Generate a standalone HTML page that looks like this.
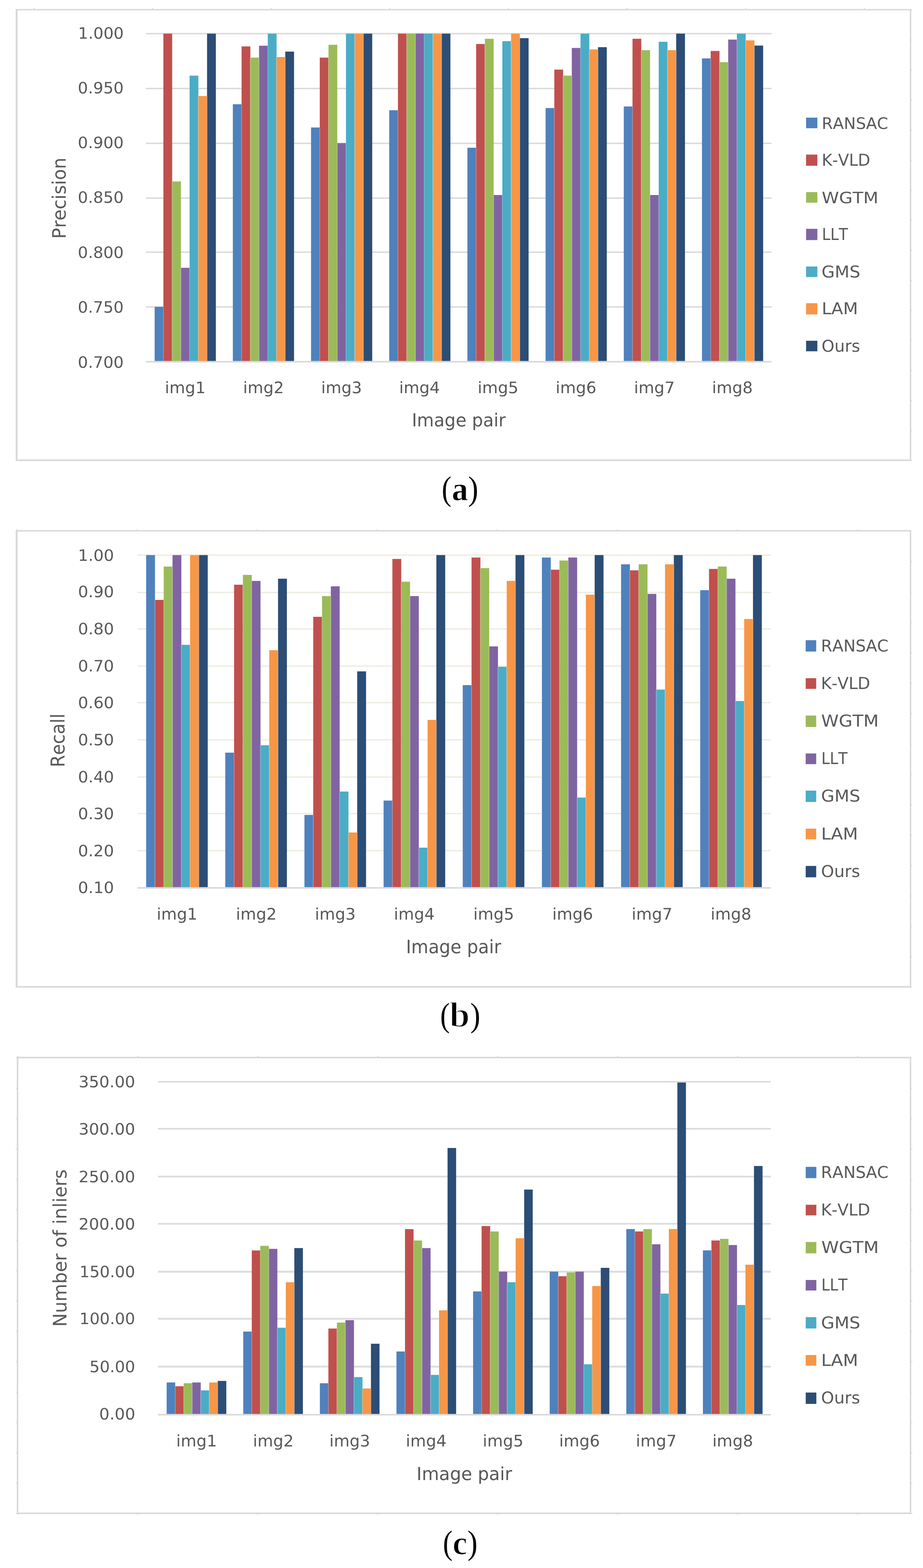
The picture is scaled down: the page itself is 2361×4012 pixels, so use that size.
<!DOCTYPE html>
<html lang="en"><head><meta charset="utf-8"><title>Figure: precision, recall and number of inliers per image pair</title>
<style>
html,body{margin:0;padding:0;background:#fff}
body{width:2361px;height:4012px;overflow:hidden}
svg{display:block}
text{white-space:pre;font-kerning:none;font-variant-ligatures:none;text-rendering:geometricPrecision}
</style></head><body>
<svg width="2361" height="4012" viewBox="0 0 2361 4012" role="img" aria-label="Bar charts of precision, recall and number of inliers for eight image pairs and seven methods">
<rect x="0" y="0" width="2361" height="4012" fill="#fff"/>
<g id="chart-a">
<rect x="85.80" y="19.90" width="2.00" height="3.60" fill="#D2D2D2"/>
<rect x="389.25" y="19.90" width="2.00" height="3.60" fill="#D2D2D2"/>
<rect x="692.70" y="19.90" width="2.00" height="3.60" fill="#D2D2D2"/>
<rect x="996.15" y="19.90" width="2.00" height="3.60" fill="#D2D2D2"/>
<rect x="1299.60" y="19.90" width="2.00" height="3.60" fill="#D2D2D2"/>
<rect x="1603.05" y="19.90" width="2.00" height="3.60" fill="#D2D2D2"/>
<rect x="1906.50" y="19.90" width="2.00" height="3.60" fill="#D2D2D2"/>
<rect x="2209.95" y="19.90" width="2.00" height="3.60" fill="#D2D2D2"/>
<rect x="2330.00" y="24.70" width="3.40" height="1.80" fill="#D2D2D2"/>
<rect x="2330.00" y="101.56" width="3.40" height="1.80" fill="#D2D2D2"/>
<rect x="2330.00" y="178.42" width="3.40" height="1.80" fill="#D2D2D2"/>
<rect x="2330.00" y="255.28" width="3.40" height="1.80" fill="#D2D2D2"/>
<rect x="2330.00" y="332.14" width="3.40" height="1.80" fill="#D2D2D2"/>
<rect x="2330.00" y="409.00" width="3.40" height="1.80" fill="#D2D2D2"/>
<rect x="2330.00" y="485.86" width="3.40" height="1.80" fill="#D2D2D2"/>
<rect x="2330.00" y="562.72" width="3.40" height="1.80" fill="#D2D2D2"/>
<rect x="2330.00" y="639.58" width="3.40" height="1.80" fill="#D2D2D2"/>
<rect x="2330.00" y="716.44" width="3.40" height="1.80" fill="#D2D2D2"/>
<rect x="2330.00" y="793.30" width="3.40" height="1.80" fill="#D2D2D2"/>
<rect x="2330.00" y="870.16" width="3.40" height="1.80" fill="#D2D2D2"/>
<rect x="2330.00" y="947.02" width="3.40" height="1.80" fill="#D2D2D2"/>
<rect x="2330.00" y="1023.88" width="3.40" height="1.80" fill="#D2D2D2"/>
<rect x="2330.00" y="1100.74" width="3.40" height="1.80" fill="#D2D2D2"/>
<rect x="2330.00" y="1177.60" width="3.40" height="1.80" fill="#D2D2D2"/>
<path fill="#D9D9D9" fill-rule="evenodd" d="M40.10 22.90H2331.00V1179.80H40.10Z M45.00 26.60V1175.50H2327.20V26.60Z"/>
<rect x="373.20" y="84.35" width="1600.40" height="3.50" fill="#D9D9D9"/>
<rect x="373.20" y="224.70" width="1600.40" height="3.50" fill="#D9D9D9"/>
<rect x="373.20" y="365.05" width="1600.40" height="3.50" fill="#D9D9D9"/>
<rect x="373.20" y="505.15" width="1600.40" height="3.50" fill="#D9D9D9"/>
<rect x="373.20" y="643.45" width="1600.40" height="3.50" fill="#D9D9D9"/>
<rect x="373.20" y="783.60" width="1600.40" height="3.50" fill="#D9D9D9"/>
<rect x="395.60" y="785.10" width="22.49" height="140.45" fill="#4F81BD"/>
<rect x="417.94" y="86.10" width="22.49" height="839.45" fill="#C0504D"/>
<rect x="440.28" y="464.30" width="22.49" height="461.25" fill="#9BBB59"/>
<rect x="462.62" y="685.20" width="22.49" height="240.35" fill="#8064A2"/>
<rect x="484.96" y="193.50" width="22.49" height="732.05" fill="#4BACC6"/>
<rect x="507.30" y="245.70" width="22.49" height="679.85" fill="#F79646"/>
<rect x="529.64" y="86.10" width="22.49" height="839.45" fill="#2C4D75"/>
<rect x="595.60" y="266.70" width="22.49" height="658.85" fill="#4F81BD"/>
<rect x="617.94" y="118.70" width="22.49" height="806.85" fill="#C0504D"/>
<rect x="640.28" y="147.40" width="22.49" height="778.15" fill="#9BBB59"/>
<rect x="662.62" y="117.00" width="22.49" height="808.55" fill="#8064A2"/>
<rect x="684.96" y="86.10" width="22.49" height="839.45" fill="#4BACC6"/>
<rect x="707.30" y="145.80" width="22.49" height="779.75" fill="#F79646"/>
<rect x="729.64" y="132.00" width="22.49" height="793.55" fill="#2C4D75"/>
<rect x="795.60" y="326.20" width="22.49" height="599.35" fill="#4F81BD"/>
<rect x="817.94" y="147.40" width="22.49" height="778.15" fill="#C0504D"/>
<rect x="840.28" y="114.60" width="22.49" height="810.95" fill="#9BBB59"/>
<rect x="862.62" y="366.30" width="22.49" height="559.25" fill="#8064A2"/>
<rect x="884.96" y="86.10" width="22.49" height="839.45" fill="#4BACC6"/>
<rect x="907.30" y="86.10" width="22.49" height="839.45" fill="#F79646"/>
<rect x="929.64" y="86.10" width="22.49" height="839.45" fill="#2C4D75"/>
<rect x="995.60" y="282.10" width="22.49" height="643.45" fill="#4F81BD"/>
<rect x="1017.94" y="86.10" width="22.49" height="839.45" fill="#C0504D"/>
<rect x="1040.28" y="86.10" width="22.49" height="839.45" fill="#9BBB59"/>
<rect x="1062.62" y="86.10" width="22.49" height="839.45" fill="#8064A2"/>
<rect x="1084.96" y="86.10" width="22.49" height="839.45" fill="#4BACC6"/>
<rect x="1107.30" y="86.10" width="22.49" height="839.45" fill="#F79646"/>
<rect x="1129.64" y="86.10" width="22.49" height="839.45" fill="#2C4D75"/>
<rect x="1195.60" y="378.00" width="22.49" height="547.55" fill="#4F81BD"/>
<rect x="1217.94" y="112.60" width="22.49" height="812.95" fill="#C0504D"/>
<rect x="1240.28" y="99.20" width="22.49" height="826.35" fill="#9BBB59"/>
<rect x="1262.62" y="499.00" width="22.49" height="426.55" fill="#8064A2"/>
<rect x="1284.96" y="105.30" width="22.49" height="820.25" fill="#4BACC6"/>
<rect x="1307.30" y="86.10" width="22.49" height="839.45" fill="#F79646"/>
<rect x="1329.64" y="97.60" width="22.49" height="827.95" fill="#2C4D75"/>
<rect x="1395.60" y="276.50" width="22.49" height="649.05" fill="#4F81BD"/>
<rect x="1417.94" y="178.10" width="22.49" height="747.45" fill="#C0504D"/>
<rect x="1440.28" y="193.50" width="22.49" height="732.05" fill="#9BBB59"/>
<rect x="1462.62" y="122.70" width="22.49" height="802.85" fill="#8064A2"/>
<rect x="1484.96" y="86.10" width="22.49" height="839.45" fill="#4BACC6"/>
<rect x="1507.30" y="126.40" width="22.49" height="799.15" fill="#F79646"/>
<rect x="1529.64" y="120.70" width="22.49" height="804.85" fill="#2C4D75"/>
<rect x="1595.60" y="272.40" width="22.49" height="653.15" fill="#4F81BD"/>
<rect x="1617.94" y="99.20" width="22.49" height="826.35" fill="#C0504D"/>
<rect x="1640.28" y="128.40" width="22.49" height="797.15" fill="#9BBB59"/>
<rect x="1662.62" y="499.00" width="22.49" height="426.55" fill="#8064A2"/>
<rect x="1684.96" y="106.90" width="22.49" height="818.65" fill="#4BACC6"/>
<rect x="1707.30" y="128.40" width="22.49" height="797.15" fill="#F79646"/>
<rect x="1729.64" y="86.10" width="22.49" height="839.45" fill="#2C4D75"/>
<rect x="1795.60" y="149.40" width="22.49" height="776.15" fill="#4F81BD"/>
<rect x="1817.94" y="130.40" width="22.49" height="795.15" fill="#C0504D"/>
<rect x="1840.28" y="159.10" width="22.49" height="766.45" fill="#9BBB59"/>
<rect x="1862.62" y="101.30" width="22.49" height="824.25" fill="#8064A2"/>
<rect x="1884.96" y="86.10" width="22.49" height="839.45" fill="#4BACC6"/>
<rect x="1907.30" y="103.30" width="22.49" height="822.25" fill="#F79646"/>
<rect x="1929.64" y="116.60" width="22.49" height="808.95" fill="#2C4D75"/>
<path d="M417.94 785.10V925.55M440.28 464.30V925.55M462.62 685.20V925.55M484.96 685.20V925.55M507.30 245.70V925.55M529.64 245.70V925.55M617.94 266.70V925.55M640.28 147.40V925.55M662.62 147.40V925.55M684.96 117.00V925.55M707.30 145.80V925.55M729.64 145.80V925.55M817.94 326.20V925.55M840.28 147.40V925.55M862.62 366.30V925.55M884.96 366.30V925.55M907.30 86.10V925.55M929.64 86.10V925.55M1017.94 282.10V925.55M1040.28 86.10V925.55M1062.62 86.10V925.55M1084.96 86.10V925.55M1107.30 86.10V925.55M1129.64 86.10V925.55M1217.94 378.00V925.55M1240.28 112.60V925.55M1262.62 499.00V925.55M1284.96 499.00V925.55M1307.30 105.30V925.55M1329.64 97.60V925.55M1417.94 276.50V925.55M1440.28 193.50V925.55M1462.62 193.50V925.55M1484.96 122.70V925.55M1507.30 126.40V925.55M1529.64 126.40V925.55M1617.94 272.40V925.55M1640.28 128.40V925.55M1662.62 499.00V925.55M1684.96 499.00V925.55M1707.30 128.40V925.55M1729.64 128.40V925.55M1817.94 149.40V925.55M1840.28 159.10V925.55M1862.62 159.10V925.55M1884.96 101.30V925.55M1907.30 103.30V925.55M1929.64 116.60V925.55" stroke="#fff" stroke-opacity="0.3" stroke-width="1.7" fill="none"/>
<rect x="373.20" y="923.55" width="1600.40" height="4.00" fill="#D9D9D9"/>
<text transform="matrix(0.4073 0 0 0.4027 199.87 98.80)" font-family="'DejaVu Sans', 'Liberation Sans', sans-serif" font-size="100" font-weight="normal" fill="#595959">1.000</text>
<text transform="matrix(0.4102 0 0 0.4027 199.03 238.80)" font-family="'DejaVu Sans', 'Liberation Sans', sans-serif" font-size="100" font-weight="normal" fill="#595959">0.950</text>
<text transform="matrix(0.4102 0 0 0.4027 199.03 379.15)" font-family="'DejaVu Sans', 'Liberation Sans', sans-serif" font-size="100" font-weight="normal" fill="#595959">0.900</text>
<text transform="matrix(0.4102 0 0 0.4027 199.03 519.40)" font-family="'DejaVu Sans', 'Liberation Sans', sans-serif" font-size="100" font-weight="normal" fill="#595959">0.850</text>
<text transform="matrix(0.4102 0 0 0.4027 199.03 659.80)" font-family="'DejaVu Sans', 'Liberation Sans', sans-serif" font-size="100" font-weight="normal" fill="#595959">0.800</text>
<text transform="matrix(0.4102 0 0 0.4027 199.03 800.15)" font-family="'DejaVu Sans', 'Liberation Sans', sans-serif" font-size="100" font-weight="normal" fill="#595959">0.750</text>
<text transform="matrix(0.4102 0 0 0.4027 199.03 940.55)" font-family="'DejaVu Sans', 'Liberation Sans', sans-serif" font-size="100" font-weight="normal" fill="#595959">0.700</text>
<text transform="matrix(0.4138 0 0 0.4067 421.65 1006.20)" font-family="'DejaVu Sans', 'Liberation Sans', sans-serif" font-size="100" font-weight="normal" fill="#595959">img1</text>
<text transform="matrix(0.4138 0 0 0.4067 621.86 1006.20)" font-family="'DejaVu Sans', 'Liberation Sans', sans-serif" font-size="100" font-weight="normal" fill="#595959">img2</text>
<text transform="matrix(0.4139 0 0 0.4067 821.44 1006.20)" font-family="'DejaVu Sans', 'Liberation Sans', sans-serif" font-size="100" font-weight="normal" fill="#595959">img3</text>
<text transform="matrix(0.4140 0 0 0.4067 1021.01 1006.20)" font-family="'DejaVu Sans', 'Liberation Sans', sans-serif" font-size="100" font-weight="normal" fill="#595959">img4</text>
<text transform="matrix(0.4138 0 0 0.4067 1221.65 1006.20)" font-family="'DejaVu Sans', 'Liberation Sans', sans-serif" font-size="100" font-weight="normal" fill="#595959">img5</text>
<text transform="matrix(0.4139 0 0 0.4067 1421.23 1006.20)" font-family="'DejaVu Sans', 'Liberation Sans', sans-serif" font-size="100" font-weight="normal" fill="#595959">img6</text>
<text transform="matrix(0.4138 0 0 0.4067 1621.65 1006.20)" font-family="'DejaVu Sans', 'Liberation Sans', sans-serif" font-size="100" font-weight="normal" fill="#595959">img7</text>
<text transform="matrix(0.4139 0 0 0.4067 1821.23 1006.20)" font-family="'DejaVu Sans', 'Liberation Sans', sans-serif" font-size="100" font-weight="normal" fill="#595959">img8</text>
<text transform="matrix(0.4462 0 0 0.4603 1053.38 1090.90)" font-family="'DejaVu Sans', 'Liberation Sans', sans-serif" font-size="100" font-weight="normal" fill="#595959">Image pair</text>
<text transform="matrix(0 -0.4615 0.4753 0 168.00 610.95)" font-family="'DejaVu Sans', 'Liberation Sans', sans-serif" font-size="100" font-weight="normal" fill="#595959">Precision</text>
<rect x="2061.90" y="301.00" width="28.90" height="27.10" fill="#4F81BD"/>
<text transform="matrix(0.4094 0 0 0.4068 2102.07 330.10)" font-family="'DejaVu Sans', 'Liberation Sans', sans-serif" font-size="100" font-weight="normal" fill="#595959">RANSAC</text>
<rect x="2061.90" y="395.55" width="28.90" height="28.50" fill="#C0504D"/>
<text transform="matrix(0.4092 0 0 0.4192 2102.07 423.70)" font-family="'DejaVu Sans', 'Liberation Sans', sans-serif" font-size="100" font-weight="normal" fill="#595959">K-VLD</text>
<rect x="2061.90" y="491.50" width="28.90" height="27.10" fill="#9BBB59"/>
<text transform="matrix(0.4471 0 0 0.4027 2102.06 519.95)" font-family="'DejaVu Sans', 'Liberation Sans', sans-serif" font-size="100" font-weight="normal" fill="#595959">WGTM</text>
<rect x="2061.90" y="585.50" width="28.90" height="28.80" fill="#8064A2"/>
<text transform="matrix(0.3860 0 0 0.4192 2102.43 614.35)" font-family="'DejaVu Sans', 'Liberation Sans', sans-serif" font-size="100" font-weight="normal" fill="#595959">LLT</text>
<rect x="2061.90" y="681.90" width="28.90" height="26.90" fill="#4BACC6"/>
<text transform="matrix(0.4359 0 0 0.4192 2101.52 710.00)" font-family="'DejaVu Sans', 'Liberation Sans', sans-serif" font-size="100" font-weight="normal" fill="#595959">GMS</text>
<rect x="2061.90" y="775.80" width="28.90" height="28.80" fill="#F79646"/>
<text transform="matrix(0.4409 0 0 0.4192 2101.93 803.85)" font-family="'DejaVu Sans', 'Liberation Sans', sans-serif" font-size="100" font-weight="normal" fill="#595959">LAM</text>
<rect x="2061.90" y="871.90" width="28.90" height="26.90" fill="#2C4D75"/>
<text transform="matrix(0.4186 0 0 0.4192 2101.61 899.80)" font-family="'DejaVu Sans', 'Liberation Sans', sans-serif" font-size="100" font-weight="normal" fill="#595959">Ours</text>
<text font-family="'Liberation Serif', serif" fill="#000"><tspan x="1129.94" y="1278.85" font-size="86.89" font-weight="normal" textLength="24.68" lengthAdjust="spacingAndGlyphs">(</tspan><tspan x="1155.81" y="1279.74" font-size="85.83" font-weight="bold" textLength="41.52" lengthAdjust="spacingAndGlyphs" stroke="#fff" stroke-width="1.00" stroke-linejoin="round">a</tspan><tspan x="1197.47" y="1278.85" font-size="86.89" font-weight="normal" textLength="25.88" lengthAdjust="spacingAndGlyphs">)</tspan></text>
</g>
<g id="chart-b">
<rect x="43.00" y="1353.60" width="2.00" height="3.40" fill="#D2D2D2"/>
<rect x="350.10" y="1353.60" width="2.00" height="3.40" fill="#D2D2D2"/>
<rect x="657.20" y="1353.60" width="2.00" height="3.40" fill="#D2D2D2"/>
<rect x="964.30" y="1353.60" width="2.00" height="3.40" fill="#D2D2D2"/>
<rect x="1271.40" y="1353.60" width="2.00" height="3.40" fill="#D2D2D2"/>
<rect x="1578.50" y="1353.60" width="2.00" height="3.40" fill="#D2D2D2"/>
<rect x="1885.60" y="1353.60" width="2.00" height="3.40" fill="#D2D2D2"/>
<rect x="2192.70" y="1353.60" width="2.00" height="3.40" fill="#D2D2D2"/>
<rect x="2330.00" y="1436.20" width="3.60" height="1.80" fill="#D2D2D2"/>
<rect x="2330.00" y="1513.98" width="3.60" height="1.80" fill="#D2D2D2"/>
<rect x="2330.00" y="1591.76" width="3.60" height="1.80" fill="#D2D2D2"/>
<rect x="2330.00" y="1669.54" width="3.60" height="1.80" fill="#D2D2D2"/>
<rect x="2330.00" y="1747.32" width="3.60" height="1.80" fill="#D2D2D2"/>
<rect x="2330.00" y="1825.10" width="3.60" height="1.80" fill="#D2D2D2"/>
<rect x="2330.00" y="1902.88" width="3.60" height="1.80" fill="#D2D2D2"/>
<rect x="2330.00" y="1980.66" width="3.60" height="1.80" fill="#D2D2D2"/>
<rect x="2330.00" y="2058.44" width="3.60" height="1.80" fill="#D2D2D2"/>
<rect x="2330.00" y="2136.22" width="3.60" height="1.80" fill="#D2D2D2"/>
<rect x="2330.00" y="2214.00" width="3.60" height="1.80" fill="#D2D2D2"/>
<rect x="2330.00" y="2291.78" width="3.60" height="1.80" fill="#D2D2D2"/>
<rect x="2330.00" y="2369.56" width="3.60" height="1.80" fill="#D2D2D2"/>
<rect x="2330.00" y="2447.34" width="3.60" height="1.80" fill="#D2D2D2"/>
<rect x="2330.00" y="2525.12" width="3.60" height="1.80" fill="#D2D2D2"/>
<path fill="#D9D9D9" fill-rule="evenodd" d="M40.10 1356.20H2331.00V2527.00H40.10Z M45.00 1359.90V2523.10H2327.20V1359.90Z"/>
<rect x="352.00" y="1418.55" width="1619.60" height="3.50" fill="#EEECE1"/>
<rect x="352.00" y="1514.25" width="1619.60" height="3.50" fill="#EEECE1"/>
<rect x="352.00" y="1607.45" width="1619.60" height="3.50" fill="#EEECE1"/>
<rect x="352.00" y="1702.65" width="1619.60" height="3.50" fill="#EEECE1"/>
<rect x="352.00" y="1796.05" width="1619.60" height="3.50" fill="#EEECE1"/>
<rect x="352.00" y="1891.25" width="1619.60" height="3.50" fill="#EEECE1"/>
<rect x="352.00" y="1986.45" width="1619.60" height="3.50" fill="#EEECE1"/>
<rect x="352.00" y="2080.00" width="1619.60" height="3.50" fill="#EEECE1"/>
<rect x="352.00" y="2174.85" width="1619.60" height="3.50" fill="#EEECE1"/>
<rect x="373.80" y="1420.30" width="22.64" height="851.50" fill="#4F81BD"/>
<rect x="396.29" y="1535.00" width="22.64" height="736.80" fill="#C0504D"/>
<rect x="418.78" y="1449.60" width="22.64" height="822.20" fill="#9BBB59"/>
<rect x="441.27" y="1420.30" width="22.64" height="851.50" fill="#8064A2"/>
<rect x="463.76" y="1649.90" width="22.64" height="621.90" fill="#4BACC6"/>
<rect x="486.25" y="1420.30" width="22.64" height="851.50" fill="#F79646"/>
<rect x="508.74" y="1420.30" width="22.64" height="851.50" fill="#2C4D75"/>
<rect x="576.28" y="1925.80" width="22.64" height="346.00" fill="#4F81BD"/>
<rect x="598.77" y="1496.10" width="22.64" height="775.70" fill="#C0504D"/>
<rect x="621.26" y="1471.00" width="22.64" height="800.80" fill="#9BBB59"/>
<rect x="643.75" y="1486.40" width="22.64" height="785.40" fill="#8064A2"/>
<rect x="666.24" y="1906.80" width="22.64" height="365.00" fill="#4BACC6"/>
<rect x="688.73" y="1663.60" width="22.64" height="608.20" fill="#F79646"/>
<rect x="711.22" y="1480.70" width="22.64" height="791.10" fill="#2C4D75"/>
<rect x="778.76" y="2085.20" width="22.64" height="186.60" fill="#4F81BD"/>
<rect x="801.25" y="1578.20" width="22.64" height="693.60" fill="#C0504D"/>
<rect x="823.74" y="1525.20" width="22.64" height="746.60" fill="#9BBB59"/>
<rect x="846.23" y="1500.20" width="22.64" height="771.60" fill="#8064A2"/>
<rect x="868.72" y="2025.30" width="22.64" height="246.50" fill="#4BACC6"/>
<rect x="891.21" y="2130.10" width="22.64" height="141.70" fill="#F79646"/>
<rect x="913.70" y="1717.80" width="22.64" height="554.00" fill="#2C4D75"/>
<rect x="981.24" y="2048.40" width="22.64" height="223.40" fill="#4F81BD"/>
<rect x="1003.73" y="1430.20" width="22.64" height="841.60" fill="#C0504D"/>
<rect x="1026.22" y="1488.40" width="22.64" height="783.40" fill="#9BBB59"/>
<rect x="1048.71" y="1525.20" width="22.64" height="746.60" fill="#8064A2"/>
<rect x="1071.20" y="2168.90" width="22.64" height="102.90" fill="#4BACC6"/>
<rect x="1093.69" y="1842.00" width="22.64" height="429.80" fill="#F79646"/>
<rect x="1116.18" y="1420.30" width="22.64" height="851.50" fill="#2C4D75"/>
<rect x="1183.72" y="1753.00" width="22.64" height="518.80" fill="#4F81BD"/>
<rect x="1206.21" y="1426.50" width="22.64" height="845.30" fill="#C0504D"/>
<rect x="1228.70" y="1453.60" width="22.64" height="818.20" fill="#9BBB59"/>
<rect x="1251.19" y="1653.90" width="22.64" height="617.90" fill="#8064A2"/>
<rect x="1273.68" y="1706.10" width="22.64" height="565.70" fill="#4BACC6"/>
<rect x="1296.17" y="1486.40" width="22.64" height="785.40" fill="#F79646"/>
<rect x="1318.66" y="1420.30" width="22.64" height="851.50" fill="#2C4D75"/>
<rect x="1386.20" y="1426.50" width="22.64" height="845.30" fill="#4F81BD"/>
<rect x="1408.69" y="1457.70" width="22.64" height="814.10" fill="#C0504D"/>
<rect x="1431.18" y="1434.20" width="22.64" height="837.60" fill="#9BBB59"/>
<rect x="1453.67" y="1426.50" width="22.64" height="845.30" fill="#8064A2"/>
<rect x="1476.16" y="2040.70" width="22.64" height="231.10" fill="#4BACC6"/>
<rect x="1498.65" y="1521.60" width="22.64" height="750.20" fill="#F79646"/>
<rect x="1521.14" y="1420.30" width="22.64" height="851.50" fill="#2C4D75"/>
<rect x="1588.68" y="1443.90" width="22.64" height="827.90" fill="#4F81BD"/>
<rect x="1611.17" y="1459.30" width="22.64" height="812.50" fill="#C0504D"/>
<rect x="1633.66" y="1443.90" width="22.64" height="827.90" fill="#9BBB59"/>
<rect x="1656.15" y="1519.60" width="22.64" height="752.20" fill="#8064A2"/>
<rect x="1678.64" y="1764.40" width="22.64" height="507.40" fill="#4BACC6"/>
<rect x="1701.13" y="1443.90" width="22.64" height="827.90" fill="#F79646"/>
<rect x="1723.62" y="1420.30" width="22.64" height="851.50" fill="#2C4D75"/>
<rect x="1791.16" y="1510.10" width="22.64" height="761.70" fill="#4F81BD"/>
<rect x="1813.65" y="1455.70" width="22.64" height="816.10" fill="#C0504D"/>
<rect x="1836.14" y="1449.60" width="22.64" height="822.20" fill="#9BBB59"/>
<rect x="1858.63" y="1480.70" width="22.64" height="791.10" fill="#8064A2"/>
<rect x="1881.12" y="1793.70" width="22.64" height="478.10" fill="#4BACC6"/>
<rect x="1903.61" y="1583.90" width="22.64" height="687.90" fill="#F79646"/>
<rect x="1926.10" y="1420.30" width="22.64" height="851.50" fill="#2C4D75"/>
<path d="M396.29 1535.00V2271.80M418.78 1535.00V2271.80M441.27 1449.60V2271.80M463.76 1649.90V2271.80M486.25 1649.90V2271.80M508.74 1420.30V2271.80M598.77 1925.80V2271.80M621.26 1496.10V2271.80M643.75 1486.40V2271.80M666.24 1906.80V2271.80M688.73 1906.80V2271.80M711.22 1663.60V2271.80M801.25 2085.20V2271.80M823.74 1578.20V2271.80M846.23 1525.20V2271.80M868.72 2025.30V2271.80M891.21 2130.10V2271.80M913.70 2130.10V2271.80M1003.73 2048.40V2271.80M1026.22 1488.40V2271.80M1048.71 1525.20V2271.80M1071.20 2168.90V2271.80M1093.69 2168.90V2271.80M1116.18 1842.00V2271.80M1206.21 1753.00V2271.80M1228.70 1453.60V2271.80M1251.19 1653.90V2271.80M1273.68 1706.10V2271.80M1296.17 1706.10V2271.80M1318.66 1486.40V2271.80M1408.69 1457.70V2271.80M1431.18 1457.70V2271.80M1453.67 1434.20V2271.80M1476.16 2040.70V2271.80M1498.65 2040.70V2271.80M1521.14 1521.60V2271.80M1611.17 1459.30V2271.80M1633.66 1459.30V2271.80M1656.15 1519.60V2271.80M1678.64 1764.40V2271.80M1701.13 1764.40V2271.80M1723.62 1443.90V2271.80M1813.65 1510.10V2271.80M1836.14 1455.70V2271.80M1858.63 1480.70V2271.80M1881.12 1793.70V2271.80M1903.61 1793.70V2271.80M1926.10 1583.90V2271.80" stroke="#fff" stroke-opacity="0.3" stroke-width="1.7" fill="none"/>
<rect x="352.00" y="2269.80" width="1619.60" height="4.00" fill="#D9D9D9"/>
<text transform="matrix(0.4141 0 0 0.4027 199.45 1434.55)" font-family="'DejaVu Sans', 'Liberation Sans', sans-serif" font-size="100" font-weight="normal" fill="#595959">1.00</text>
<text transform="matrix(0.4140 0 0 0.4027 199.47 1528.35)" font-family="'DejaVu Sans', 'Liberation Sans', sans-serif" font-size="100" font-weight="normal" fill="#595959">0.90</text>
<text transform="matrix(0.4140 0 0 0.4027 199.47 1623.45)" font-family="'DejaVu Sans', 'Liberation Sans', sans-serif" font-size="100" font-weight="normal" fill="#595959">0.80</text>
<text transform="matrix(0.4140 0 0 0.4027 199.47 1717.70)" font-family="'DejaVu Sans', 'Liberation Sans', sans-serif" font-size="100" font-weight="normal" fill="#595959">0.70</text>
<text transform="matrix(0.4140 0 0 0.4027 199.47 1811.70)" font-family="'DejaVu Sans', 'Liberation Sans', sans-serif" font-size="100" font-weight="normal" fill="#595959">0.60</text>
<text transform="matrix(0.4140 0 0 0.4027 199.47 1907.05)" font-family="'DejaVu Sans', 'Liberation Sans', sans-serif" font-size="100" font-weight="normal" fill="#595959">0.50</text>
<text transform="matrix(0.4140 0 0 0.4027 199.47 2001.50)" font-family="'DejaVu Sans', 'Liberation Sans', sans-serif" font-size="100" font-weight="normal" fill="#595959">0.40</text>
<text transform="matrix(0.4140 0 0 0.4027 199.47 2096.00)" font-family="'DejaVu Sans', 'Liberation Sans', sans-serif" font-size="100" font-weight="normal" fill="#595959">0.30</text>
<text transform="matrix(0.4140 0 0 0.4027 199.47 2190.85)" font-family="'DejaVu Sans', 'Liberation Sans', sans-serif" font-size="100" font-weight="normal" fill="#595959">0.20</text>
<text transform="matrix(0.4140 0 0 0.4027 199.47 2285.30)" font-family="'DejaVu Sans', 'Liberation Sans', sans-serif" font-size="100" font-weight="normal" fill="#595959">0.10</text>
<text transform="matrix(0.4134 0 0 0.4093 400.79 2352.80)" font-family="'DejaVu Sans', 'Liberation Sans', sans-serif" font-size="100" font-weight="normal" fill="#595959">img1</text>
<text transform="matrix(0.4134 0 0 0.4093 603.49 2352.80)" font-family="'DejaVu Sans', 'Liberation Sans', sans-serif" font-size="100" font-weight="normal" fill="#595959">img2</text>
<text transform="matrix(0.4135 0 0 0.4093 805.54 2352.80)" font-family="'DejaVu Sans', 'Liberation Sans', sans-serif" font-size="100" font-weight="normal" fill="#595959">img3</text>
<text transform="matrix(0.4135 0 0 0.4093 1007.60 2352.80)" font-family="'DejaVu Sans', 'Liberation Sans', sans-serif" font-size="100" font-weight="normal" fill="#595959">img4</text>
<text transform="matrix(0.4134 0 0 0.4093 1210.71 2352.80)" font-family="'DejaVu Sans', 'Liberation Sans', sans-serif" font-size="100" font-weight="normal" fill="#595959">img5</text>
<text transform="matrix(0.4135 0 0 0.4093 1412.77 2352.80)" font-family="'DejaVu Sans', 'Liberation Sans', sans-serif" font-size="100" font-weight="normal" fill="#595959">img6</text>
<text transform="matrix(0.4134 0 0 0.4093 1615.67 2352.80)" font-family="'DejaVu Sans', 'Liberation Sans', sans-serif" font-size="100" font-weight="normal" fill="#595959">img7</text>
<text transform="matrix(0.4135 0 0 0.4093 1817.73 2352.80)" font-family="'DejaVu Sans', 'Liberation Sans', sans-serif" font-size="100" font-weight="normal" fill="#595959">img8</text>
<text transform="matrix(0.4521 0 0 0.4740 1038.53 2438.90)" font-family="'DejaVu Sans', 'Liberation Sans', sans-serif" font-size="100" font-weight="normal" fill="#595959">Image pair</text>
<text transform="matrix(0 -0.4547 0.4890 0 164.70 1963.29)" font-family="'DejaVu Sans', 'Liberation Sans', sans-serif" font-size="100" font-weight="normal" fill="#595959">Recall</text>
<rect x="2060.90" y="1638.10" width="26.90" height="29.00" fill="#4F81BD"/>
<text transform="matrix(0.4168 0 0 0.4192 2099.95 1666.90)" font-family="'DejaVu Sans', 'Liberation Sans', sans-serif" font-size="100" font-weight="normal" fill="#595959">RANSAC</text>
<rect x="2060.90" y="1735.30" width="26.90" height="27.30" fill="#C0504D"/>
<text transform="matrix(0.4156 0 0 0.4233 2099.96 1763.25)" font-family="'DejaVu Sans', 'Liberation Sans', sans-serif" font-size="100" font-weight="normal" fill="#595959">K-VLD</text>
<rect x="2060.90" y="1830.80" width="26.90" height="29.20" fill="#9BBB59"/>
<text transform="matrix(0.4548 0 0 0.4192 2100.54 1859.05)" font-family="'DejaVu Sans', 'Liberation Sans', sans-serif" font-size="100" font-weight="normal" fill="#595959">WGTM</text>
<rect x="2060.90" y="1927.90" width="26.90" height="27.30" fill="#8064A2"/>
<text transform="matrix(0.3872 0 0 0.4192 2101.02 1955.05)" font-family="'DejaVu Sans', 'Liberation Sans', sans-serif" font-size="100" font-weight="normal" fill="#595959">LLT</text>
<rect x="2060.90" y="2022.95" width="26.90" height="29.05" fill="#4BACC6"/>
<text transform="matrix(0.4419 0 0 0.4192 2100.19 2051.05)" font-family="'DejaVu Sans', 'Liberation Sans', sans-serif" font-size="100" font-weight="normal" fill="#595959">GMS</text>
<rect x="2060.90" y="2120.20" width="26.90" height="27.30" fill="#F79646"/>
<text transform="matrix(0.4479 0 0 0.4192 2100.47 2147.55)" font-family="'DejaVu Sans', 'Liberation Sans', sans-serif" font-size="100" font-weight="normal" fill="#595959">LAM</text>
<rect x="2060.90" y="2215.65" width="26.90" height="29.05" fill="#2C4D75"/>
<text transform="matrix(0.4243 0 0 0.4192 2100.28 2243.90)" font-family="'DejaVu Sans', 'Liberation Sans', sans-serif" font-size="100" font-weight="normal" fill="#595959">Ours</text>
<text font-family="'Liberation Serif', serif" fill="#000"><tspan x="1125.95" y="2625.72" font-size="86.56" font-weight="normal" textLength="24.55" lengthAdjust="spacingAndGlyphs">(</tspan><tspan x="1149.56" y="2627.49" font-size="91.00" font-weight="bold" textLength="52.24" lengthAdjust="spacingAndGlyphs" stroke="#fff" stroke-width="2.60" stroke-linejoin="round">b</tspan><tspan x="1202.90" y="2625.72" font-size="86.56" font-weight="normal" textLength="25.50" lengthAdjust="spacingAndGlyphs">)</tspan></text>
</g>
<g id="chart-c">
<rect x="44.90" y="2701.10" width="2.00" height="3.90" fill="#D2D2D2"/>
<rect x="351.80" y="2701.10" width="2.00" height="3.90" fill="#D2D2D2"/>
<rect x="658.70" y="2701.10" width="2.00" height="3.90" fill="#D2D2D2"/>
<rect x="965.60" y="2701.10" width="2.00" height="3.90" fill="#D2D2D2"/>
<rect x="1272.50" y="2701.10" width="2.00" height="3.90" fill="#D2D2D2"/>
<rect x="1579.40" y="2701.10" width="2.00" height="3.90" fill="#D2D2D2"/>
<rect x="1886.30" y="2701.10" width="2.00" height="3.90" fill="#D2D2D2"/>
<rect x="2193.20" y="2701.10" width="2.00" height="3.90" fill="#D2D2D2"/>
<rect x="44.90" y="3873.00" width="2.00" height="2.80" fill="#D2D2D2"/>
<rect x="351.80" y="3873.00" width="2.00" height="2.80" fill="#D2D2D2"/>
<rect x="658.70" y="3873.00" width="2.00" height="2.80" fill="#D2D2D2"/>
<rect x="965.60" y="3873.00" width="2.00" height="2.80" fill="#D2D2D2"/>
<rect x="1272.50" y="3873.00" width="2.00" height="2.80" fill="#D2D2D2"/>
<rect x="1579.40" y="3873.00" width="2.00" height="2.80" fill="#D2D2D2"/>
<rect x="1886.30" y="3873.00" width="2.00" height="2.80" fill="#D2D2D2"/>
<rect x="2193.20" y="3873.00" width="2.00" height="2.80" fill="#D2D2D2"/>
<rect x="40.10" y="2705.80" width="3.40" height="1.80" fill="#D2D2D2"/>
<rect x="40.10" y="2783.55" width="3.40" height="1.80" fill="#D2D2D2"/>
<rect x="40.10" y="2861.30" width="3.40" height="1.80" fill="#D2D2D2"/>
<rect x="40.10" y="2939.05" width="3.40" height="1.80" fill="#D2D2D2"/>
<rect x="40.10" y="3016.80" width="3.40" height="1.80" fill="#D2D2D2"/>
<rect x="40.10" y="3094.55" width="3.40" height="1.80" fill="#D2D2D2"/>
<rect x="40.10" y="3172.30" width="3.40" height="1.80" fill="#D2D2D2"/>
<rect x="40.10" y="3250.05" width="3.40" height="1.80" fill="#D2D2D2"/>
<rect x="40.10" y="3327.80" width="3.40" height="1.80" fill="#D2D2D2"/>
<rect x="40.10" y="3405.55" width="3.40" height="1.80" fill="#D2D2D2"/>
<rect x="40.10" y="3483.30" width="3.40" height="1.80" fill="#D2D2D2"/>
<rect x="40.10" y="3561.05" width="3.40" height="1.80" fill="#D2D2D2"/>
<rect x="40.10" y="3638.80" width="3.40" height="1.80" fill="#D2D2D2"/>
<rect x="40.10" y="3716.55" width="3.40" height="1.80" fill="#D2D2D2"/>
<rect x="40.10" y="3794.30" width="3.40" height="1.80" fill="#D2D2D2"/>
<rect x="40.10" y="3872.05" width="3.40" height="1.80" fill="#D2D2D2"/>
<rect x="2330.00" y="2783.55" width="3.80" height="1.80" fill="#D2D2D2"/>
<rect x="2330.00" y="2861.30" width="3.80" height="1.80" fill="#D2D2D2"/>
<rect x="2330.00" y="2939.05" width="3.80" height="1.80" fill="#D2D2D2"/>
<rect x="2330.00" y="3016.80" width="3.80" height="1.80" fill="#D2D2D2"/>
<rect x="2330.00" y="3094.55" width="3.80" height="1.80" fill="#D2D2D2"/>
<rect x="2330.00" y="3172.30" width="3.80" height="1.80" fill="#D2D2D2"/>
<rect x="2330.00" y="3250.05" width="3.80" height="1.80" fill="#D2D2D2"/>
<rect x="2330.00" y="3327.80" width="3.80" height="1.80" fill="#D2D2D2"/>
<rect x="2330.00" y="3405.55" width="3.80" height="1.80" fill="#D2D2D2"/>
<rect x="2330.00" y="3483.30" width="3.80" height="1.80" fill="#D2D2D2"/>
<rect x="2330.00" y="3561.05" width="3.80" height="1.80" fill="#D2D2D2"/>
<rect x="2330.00" y="3638.80" width="3.80" height="1.80" fill="#D2D2D2"/>
<rect x="2330.00" y="3716.55" width="3.80" height="1.80" fill="#D2D2D2"/>
<rect x="2330.00" y="3794.30" width="3.80" height="1.80" fill="#D2D2D2"/>
<rect x="2330.00" y="3872.05" width="3.80" height="1.80" fill="#D2D2D2"/>
<path fill="#D9D9D9" fill-rule="evenodd" d="M42.90 2704.00H2331.00V3873.90H42.90Z M46.90 2707.90V3870.10H2327.20V2707.90Z"/>
<rect x="404.30" y="2766.15" width="1567.70" height="3.50" fill="#D9D9D9"/>
<rect x="404.30" y="2886.20" width="1567.70" height="4.80" fill="#EDEDED"/>
<rect x="404.30" y="2886.20" width="1567.70" height="3.00" fill="#D9D9D9"/>
<rect x="404.30" y="3008.60" width="1567.70" height="4.80" fill="#EDEDED"/>
<rect x="404.30" y="3008.60" width="1567.70" height="3.00" fill="#D9D9D9"/>
<rect x="404.30" y="3129.40" width="1567.70" height="4.80" fill="#EDEDED"/>
<rect x="404.30" y="3129.40" width="1567.70" height="3.00" fill="#D9D9D9"/>
<rect x="404.30" y="3251.05" width="1567.70" height="5.90" fill="#EDEDED"/>
<rect x="404.30" y="3252.35" width="1567.70" height="3.00" fill="#D9D9D9"/>
<rect x="404.30" y="3371.45" width="1567.70" height="5.90" fill="#EDEDED"/>
<rect x="404.30" y="3372.75" width="1567.70" height="3.00" fill="#D9D9D9"/>
<rect x="404.30" y="3493.85" width="1567.70" height="5.90" fill="#EDEDED"/>
<rect x="404.30" y="3495.15" width="1567.70" height="3.00" fill="#D9D9D9"/>
<rect x="426.30" y="3537.30" width="21.92" height="82.45" fill="#4F81BD"/>
<rect x="448.07" y="3547.00" width="21.92" height="72.75" fill="#C0504D"/>
<rect x="469.84" y="3539.30" width="21.92" height="80.45" fill="#9BBB59"/>
<rect x="491.61" y="3537.30" width="21.92" height="82.45" fill="#8064A2"/>
<rect x="513.38" y="3557.50" width="21.92" height="62.25" fill="#4BACC6"/>
<rect x="535.15" y="3537.30" width="21.92" height="82.45" fill="#F79646"/>
<rect x="556.92" y="3533.30" width="21.92" height="86.45" fill="#2C4D75"/>
<rect x="622.26" y="3407.00" width="21.92" height="212.75" fill="#4F81BD"/>
<rect x="644.03" y="3199.50" width="21.92" height="420.25" fill="#C0504D"/>
<rect x="665.80" y="3187.70" width="21.92" height="432.05" fill="#9BBB59"/>
<rect x="687.57" y="3195.40" width="21.92" height="424.35" fill="#8064A2"/>
<rect x="709.34" y="3397.30" width="21.92" height="222.45" fill="#4BACC6"/>
<rect x="731.11" y="3280.80" width="21.92" height="338.95" fill="#F79646"/>
<rect x="752.88" y="3193.40" width="21.92" height="426.35" fill="#2C4D75"/>
<rect x="818.22" y="3539.30" width="21.92" height="80.45" fill="#4F81BD"/>
<rect x="839.99" y="3399.30" width="21.92" height="220.45" fill="#C0504D"/>
<rect x="861.76" y="3384.00" width="21.92" height="235.75" fill="#9BBB59"/>
<rect x="883.53" y="3377.90" width="21.92" height="241.85" fill="#8064A2"/>
<rect x="905.30" y="3523.50" width="21.92" height="96.25" fill="#4BACC6"/>
<rect x="927.07" y="3552.70" width="21.92" height="67.05" fill="#F79646"/>
<rect x="948.84" y="3438.20" width="21.92" height="181.55" fill="#2C4D75"/>
<rect x="1014.18" y="3458.00" width="21.92" height="161.75" fill="#4F81BD"/>
<rect x="1035.95" y="3144.90" width="21.92" height="474.85" fill="#C0504D"/>
<rect x="1057.72" y="3174.00" width="21.92" height="445.75" fill="#9BBB59"/>
<rect x="1079.49" y="3193.40" width="21.92" height="426.35" fill="#8064A2"/>
<rect x="1101.26" y="3517.90" width="21.92" height="101.85" fill="#4BACC6"/>
<rect x="1123.03" y="3352.80" width="21.92" height="266.95" fill="#F79646"/>
<rect x="1144.80" y="2937.30" width="21.92" height="682.45" fill="#2C4D75"/>
<rect x="1210.14" y="3304.30" width="21.92" height="315.45" fill="#4F81BD"/>
<rect x="1231.91" y="3137.10" width="21.92" height="482.65" fill="#C0504D"/>
<rect x="1253.68" y="3150.90" width="21.92" height="468.85" fill="#9BBB59"/>
<rect x="1275.45" y="3253.70" width="21.92" height="366.05" fill="#8064A2"/>
<rect x="1297.22" y="3280.80" width="21.92" height="338.95" fill="#4BACC6"/>
<rect x="1318.99" y="3168.30" width="21.92" height="451.45" fill="#F79646"/>
<rect x="1340.76" y="3043.70" width="21.92" height="576.05" fill="#2C4D75"/>
<rect x="1406.10" y="3253.70" width="21.92" height="366.05" fill="#4F81BD"/>
<rect x="1427.87" y="3265.40" width="21.92" height="354.35" fill="#C0504D"/>
<rect x="1449.64" y="3255.70" width="21.92" height="364.05" fill="#9BBB59"/>
<rect x="1471.41" y="3253.70" width="21.92" height="366.05" fill="#8064A2"/>
<rect x="1493.18" y="3490.80" width="21.92" height="128.95" fill="#4BACC6"/>
<rect x="1514.95" y="3290.50" width="21.92" height="329.25" fill="#F79646"/>
<rect x="1536.72" y="3244.00" width="21.92" height="375.75" fill="#2C4D75"/>
<rect x="1602.06" y="3144.80" width="21.92" height="474.95" fill="#4F81BD"/>
<rect x="1623.83" y="3150.90" width="21.92" height="468.85" fill="#C0504D"/>
<rect x="1645.60" y="3144.80" width="21.92" height="474.95" fill="#9BBB59"/>
<rect x="1667.37" y="3183.70" width="21.92" height="436.05" fill="#8064A2"/>
<rect x="1689.14" y="3309.90" width="21.92" height="309.85" fill="#4BACC6"/>
<rect x="1710.91" y="3144.80" width="21.92" height="474.95" fill="#F79646"/>
<rect x="1732.68" y="2769.80" width="21.92" height="849.95" fill="#2C4D75"/>
<rect x="1798.02" y="3199.30" width="21.92" height="420.45" fill="#4F81BD"/>
<rect x="1819.79" y="3174.00" width="21.92" height="445.75" fill="#C0504D"/>
<rect x="1841.56" y="3169.90" width="21.92" height="449.85" fill="#9BBB59"/>
<rect x="1863.33" y="3185.70" width="21.92" height="434.05" fill="#8064A2"/>
<rect x="1885.10" y="3339.10" width="21.92" height="280.65" fill="#4BACC6"/>
<rect x="1906.87" y="3235.90" width="21.92" height="383.85" fill="#F79646"/>
<rect x="1928.64" y="2983.40" width="21.92" height="636.35" fill="#2C4D75"/>
<path d="M448.07 3547.00V3619.75M469.84 3547.00V3619.75M491.61 3539.30V3619.75M513.38 3557.50V3619.75M535.15 3557.50V3619.75M556.92 3537.30V3619.75M644.03 3407.00V3619.75M665.80 3199.50V3619.75M687.57 3195.40V3619.75M709.34 3397.30V3619.75M731.11 3397.30V3619.75M752.88 3280.80V3619.75M839.99 3539.30V3619.75M861.76 3399.30V3619.75M883.53 3384.00V3619.75M905.30 3523.50V3619.75M927.07 3552.70V3619.75M948.84 3552.70V3619.75M1035.95 3458.00V3619.75M1057.72 3174.00V3619.75M1079.49 3193.40V3619.75M1101.26 3517.90V3619.75M1123.03 3517.90V3619.75M1144.80 3352.80V3619.75M1231.91 3304.30V3619.75M1253.68 3150.90V3619.75M1275.45 3253.70V3619.75M1297.22 3280.80V3619.75M1318.99 3280.80V3619.75M1340.76 3168.30V3619.75M1427.87 3265.40V3619.75M1449.64 3265.40V3619.75M1471.41 3255.70V3619.75M1493.18 3490.80V3619.75M1514.95 3490.80V3619.75M1536.72 3290.50V3619.75M1623.83 3150.90V3619.75M1645.60 3150.90V3619.75M1667.37 3183.70V3619.75M1689.14 3309.90V3619.75M1710.91 3309.90V3619.75M1732.68 3144.80V3619.75M1819.79 3199.30V3619.75M1841.56 3174.00V3619.75M1863.33 3185.70V3619.75M1885.10 3339.10V3619.75M1906.87 3339.10V3619.75M1928.64 3235.90V3619.75" stroke="#fff" stroke-opacity="0.3" stroke-width="1.7" fill="none"/>
<rect x="404.30" y="3617.75" width="1567.70" height="4.00" fill="#D9D9D9"/>
<text transform="matrix(0.4123 0 0 0.4027 201.36 2782.30)" font-family="'DejaVu Sans', 'Liberation Sans', sans-serif" font-size="100" font-weight="normal" fill="#595959">350.00</text>
<text transform="matrix(0.4123 0 0 0.4027 201.36 2902.90)" font-family="'DejaVu Sans', 'Liberation Sans', sans-serif" font-size="100" font-weight="normal" fill="#595959">300.00</text>
<text transform="matrix(0.4123 0 0 0.4027 201.36 3025.30)" font-family="'DejaVu Sans', 'Liberation Sans', sans-serif" font-size="100" font-weight="normal" fill="#595959">250.00</text>
<text transform="matrix(0.4123 0 0 0.4027 201.36 3145.50)" font-family="'DejaVu Sans', 'Liberation Sans', sans-serif" font-size="100" font-weight="normal" fill="#595959">200.00</text>
<text transform="matrix(0.4066 0 0 0.4027 203.32 3267.90)" font-family="'DejaVu Sans', 'Liberation Sans', sans-serif" font-size="100" font-weight="normal" fill="#595959">150.00</text>
<text transform="matrix(0.4066 0 0 0.4027 203.32 3387.70)" font-family="'DejaVu Sans', 'Liberation Sans', sans-serif" font-size="100" font-weight="normal" fill="#595959">100.00</text>
<text transform="matrix(0.4080 0 0 0.4027 228.95 3511.00)" font-family="'DejaVu Sans', 'Liberation Sans', sans-serif" font-size="100" font-weight="normal" fill="#595959">50.00</text>
<text transform="matrix(0.4136 0 0 0.4027 253.87 3631.60)" font-family="'DejaVu Sans', 'Liberation Sans', sans-serif" font-size="100" font-weight="normal" fill="#595959">0.00</text>
<text transform="matrix(0.4134 0 0 0.4093 450.83 3700.60)" font-family="'DejaVu Sans', 'Liberation Sans', sans-serif" font-size="100" font-weight="normal" fill="#595959">img1</text>
<text transform="matrix(0.4134 0 0 0.4093 647.01 3700.60)" font-family="'DejaVu Sans', 'Liberation Sans', sans-serif" font-size="100" font-weight="normal" fill="#595959">img2</text>
<text transform="matrix(0.4135 0 0 0.4093 842.54 3700.60)" font-family="'DejaVu Sans', 'Liberation Sans', sans-serif" font-size="100" font-weight="normal" fill="#595959">img3</text>
<text transform="matrix(0.4135 0 0 0.4093 1038.08 3700.60)" font-family="'DejaVu Sans', 'Liberation Sans', sans-serif" font-size="100" font-weight="normal" fill="#595959">img4</text>
<text transform="matrix(0.4134 0 0 0.4093 1234.67 3700.60)" font-family="'DejaVu Sans', 'Liberation Sans', sans-serif" font-size="100" font-weight="normal" fill="#595959">img5</text>
<text transform="matrix(0.4135 0 0 0.4093 1430.21 3700.60)" font-family="'DejaVu Sans', 'Liberation Sans', sans-serif" font-size="100" font-weight="normal" fill="#595959">img6</text>
<text transform="matrix(0.4134 0 0 0.4093 1626.59 3700.60)" font-family="'DejaVu Sans', 'Liberation Sans', sans-serif" font-size="100" font-weight="normal" fill="#595959">img7</text>
<text transform="matrix(0.4135 0 0 0.4093 1822.13 3700.60)" font-family="'DejaVu Sans', 'Liberation Sans', sans-serif" font-size="100" font-weight="normal" fill="#595959">img8</text>
<text transform="matrix(0.4538 0 0 0.4603 1065.52 3786.85)" font-family="'DejaVu Sans', 'Liberation Sans', sans-serif" font-size="100" font-weight="normal" fill="#595959">Image pair</text>
<text transform="matrix(0 -0.4667 0.4753 0 170.20 3394.70)" font-family="'DejaVu Sans', 'Liberation Sans', sans-serif" font-size="100" font-weight="normal" fill="#595959">Number of inliers</text>
<rect x="2061.00" y="2985.60" width="27.20" height="28.85" fill="#4F81BD"/>
<text transform="matrix(0.4168 0 0 0.4192 2099.95 3013.85)" font-family="'DejaVu Sans', 'Liberation Sans', sans-serif" font-size="100" font-weight="normal" fill="#595959">RANSAC</text>
<rect x="2061.00" y="3082.60" width="27.20" height="27.10" fill="#C0504D"/>
<text transform="matrix(0.4156 0 0 0.4192 2099.96 3110.15)" font-family="'DejaVu Sans', 'Liberation Sans', sans-serif" font-size="100" font-weight="normal" fill="#595959">K-VLD</text>
<rect x="2061.00" y="3177.85" width="27.20" height="29.00" fill="#9BBB59"/>
<text transform="matrix(0.4532 0 0 0.4192 2101.04 3206.30)" font-family="'DejaVu Sans', 'Liberation Sans', sans-serif" font-size="100" font-weight="normal" fill="#595959">WGTM</text>
<rect x="2061.00" y="3275.05" width="27.20" height="26.90" fill="#8064A2"/>
<text transform="matrix(0.3872 0 0 0.4192 2101.02 3301.85)" font-family="'DejaVu Sans', 'Liberation Sans', sans-serif" font-size="100" font-weight="normal" fill="#595959">LLT</text>
<rect x="2061.00" y="3370.10" width="27.20" height="29.05" fill="#4BACC6"/>
<text transform="matrix(0.4419 0 0 0.4192 2100.19 3398.70)" font-family="'DejaVu Sans', 'Liberation Sans', sans-serif" font-size="100" font-weight="normal" fill="#595959">GMS</text>
<rect x="2061.00" y="3467.10" width="27.20" height="27.25" fill="#F79646"/>
<text transform="matrix(0.4505 0 0 0.4192 2100.45 3494.65)" font-family="'DejaVu Sans', 'Liberation Sans', sans-serif" font-size="100" font-weight="normal" fill="#595959">LAM</text>
<rect x="2061.00" y="3563.05" width="27.20" height="29.00" fill="#2C4D75"/>
<text transform="matrix(0.4243 0 0 0.4192 2100.28 3590.95)" font-family="'DejaVu Sans', 'Liberation Sans', sans-serif" font-size="100" font-weight="normal" fill="#595959">Ours</text>
<text font-family="'Liberation Serif', serif" fill="#000"><tspan x="1132.94" y="3975.72" font-size="86.56" font-weight="normal" textLength="24.68" lengthAdjust="spacingAndGlyphs">(</tspan><tspan x="1157.68" y="3977.03" font-size="86.88" font-weight="bold" textLength="37.33" lengthAdjust="spacingAndGlyphs" stroke="#fff" stroke-width="1.60" stroke-linejoin="round">c</tspan><tspan x="1195.68" y="3975.72" font-size="86.56" font-weight="normal" textLength="25.75" lengthAdjust="spacingAndGlyphs">)</tspan></text>
</g>
</svg>
</body></html>
